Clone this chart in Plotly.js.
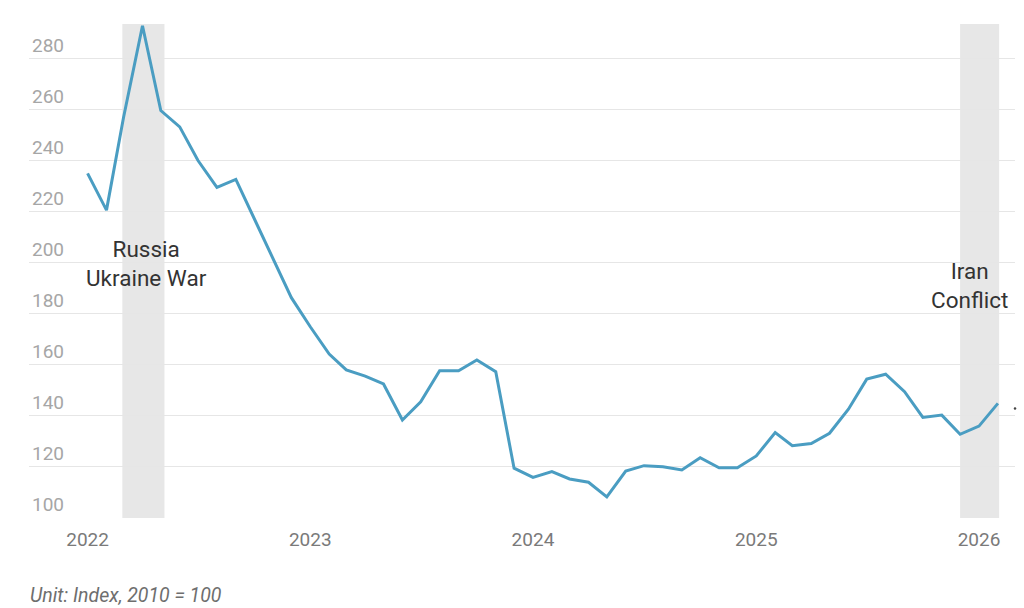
<!DOCTYPE html>
<html>
<head>
<meta charset="utf-8">
<script src="https://cdn.plot.ly/plotly-3.0.1.min.js"></script>
<style>
  html, body { margin: 0; padding: 0; background: #ffffff; }
  #chart { width: 1024px; height: 608px; }
</style>
</head>
<body>
<div id="chart"></div>
<script>
// Monthly index values (Index, 2010 = 100)
const months = [
  "2022-01-01","2022-02-01","2022-03-01","2022-04-01","2022-05-01","2022-06-01",
  "2022-07-01","2022-08-01","2022-09-01","2022-10-01","2022-11-01","2022-12-01",
  "2023-01-01","2023-02-01","2023-03-01","2023-04-01","2023-05-01","2023-06-01",
  "2023-07-01","2023-08-01","2023-09-01","2023-10-01","2023-11-01","2023-12-01",
  "2024-01-01","2024-02-01","2024-03-01","2024-04-01","2024-05-01","2024-06-01",
  "2024-07-01","2024-08-01","2024-09-01","2024-10-01","2024-11-01","2024-12-01",
  "2025-01-01","2025-02-01","2025-03-01","2025-04-01","2025-05-01","2025-06-01",
  "2025-07-01","2025-08-01","2025-09-01","2025-10-01","2025-11-01","2025-12-01",
  "2026-01-01","2026-02-01"
];
const values = [
  235.0, 220.6, 257.0, 292.8, 259.6, 253.2, 240.0, 229.5, 232.6, 217.3, 201.9, 186.3,
  174.9, 164.2, 158.0, 155.6, 152.5, 138.4, 145.5, 157.7, 157.7, 161.9, 157.3, 119.5,
  115.9, 118.2, 115.3, 114.0, 108.3, 118.4, 120.5, 120.1, 118.8, 123.6, 119.7, 119.7,
  124.3, 133.5, 128.3, 129.2, 133.2, 142.6, 154.4, 156.3, 149.5, 139.4, 140.3, 132.8,
  136.0, 144.9
];
// Latest single estimate point
const dotMonth = ["2026-03-01"];
const dotValue = [142.9];

// Shaded event periods
const eventStarts = ["2022-02-27", "2025-12-01"];
const eventEnds   = ["2022-05-07", "2026-02-03"];
const eventLabels = ["Russia<br>Ukraine War", "Iran<br>Conflict"];
const eventLabelX = ["2022-04-08", "2025-12-17"];
const eventLabelY = [199.5, 191.0];

const yTicks = [100, 120, 140, 160, 180, 200, 220, 240, 260, 280];
const xTickDates = ["2022-01-01","2023-01-01","2024-01-01","2025-01-01","2026-01-01"];
const xTickLabels = ["2022","2023","2024","2025","2026"];
const caption = "Unit: Index, 2010 = 100";

const shapes = eventStarts.map((s, i) => ({
  type: "rect", xref: "x", yref: "paper",
  x0: s, x1: eventEnds[i], y0: 0, y1: 1,
  fillcolor: "#e7e7e7", line: { width: 0 }, layer: "below"
}));

const annotations = eventLabels.map((t, i) => ({
  x: eventLabelX[i], y: eventLabelY[i], xref: "x", yref: "y",
  text: t, showarrow: false, align: "center",
  font: { family: "Roboto, sans-serif", size: 22.5, color: "#333333" }
}));
annotations.push({
  xref: "paper", yref: "paper", x: 0, y: -0.156, xanchor: "left", yanchor: "middle",
  xshift: -1,
  text: "<i>" + caption + "</i>", showarrow: false,
  font: { family: "Roboto, sans-serif", size: 19.5, color: "#6e6e6e" }
});

const traces = [
  {
    x: months, y: values, type: "scatter", mode: "lines",
    line: { color: "#4a9dc2", width: 3 }, hoverinfo: "skip"
  },
  {
    x: dotMonth, y: dotValue, type: "scatter", mode: "markers",
    marker: { color: "#444444", size: 2.5 }, cliponaxis: false, hoverinfo: "skip"
  }
];

const layout = {
  width: 1024, height: 608,
  margin: { l: 29, r: 9, t: 24, b: 90 },
  paper_bgcolor: "#ffffff", plot_bgcolor: "#ffffff",
  showlegend: false,
  xaxis: {
    type: "date",
    range: ["2021-09-27", "2026-03-01"],
    tickvals: xTickDates,
    ticktext: xTickLabels,
    ticklabelstandoff: 8,
    showgrid: false, zeroline: false, showline: false, ticks: "",
    tickfont: { family: "Roboto, sans-serif", size: 19, color: "#7a7a7a" }
  },
  yaxis: {
    range: [100, 293.5],
    tickvals: yTicks,
    ticktext: yTicks.map(String),
    ticklabelposition: "inside top",
    showgrid: true, gridcolor: "#e6e6e6", gridwidth: 1,
    zeroline: false, showline: false, ticks: "",
    tickfont: { family: "Roboto, sans-serif", size: 19, color: "#a6a6a6" }
  },
  shapes: shapes,
  annotations: annotations
};

Plotly.newPlot("chart", traces, layout, { staticPlot: true, displayModeBar: false });
</script>
</body>
</html>
